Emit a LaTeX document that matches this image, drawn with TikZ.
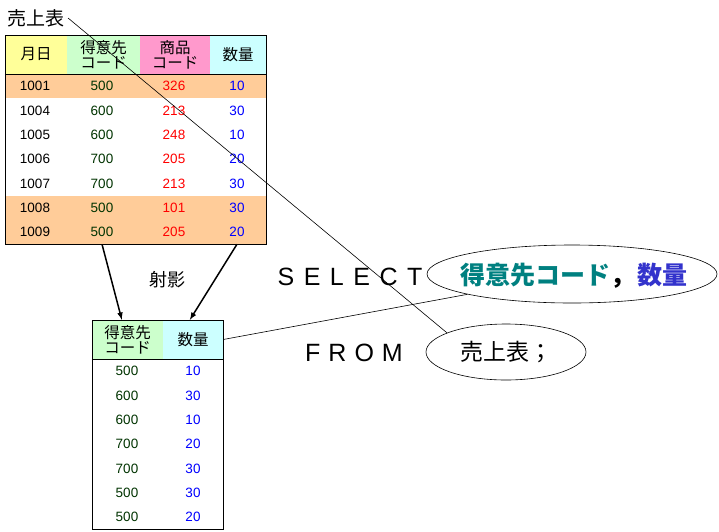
\documentclass[tikz,border=0pt]{standalone}
\usepackage{fontspec}
\setmainfont{Liberation Sans}
\newfontfamily\jp{Noto Sans CJK JP}
\usetikzlibrary{shapes.geometric, arrows}
\definecolor{hyellow}{HTML}{FFFF99}
\definecolor{hgreen}{HTML}{CCFFCC}
\definecolor{hpink}{HTML}{FF99CC}
\definecolor{hcyan}{HTML}{CCFFFF}
\definecolor{rowhi}{HTML}{FFCC99}
\definecolor{codegreen}{HTML}{003300}
\definecolor{colteal}{HTML}{008080}
\definecolor{colblue}{HTML}{3333CC}
\tikzstyle{hcell} = [rectangle, 
inner sep=0pt, 
minimum height=39pt, 
align=center, 
font=\jp\fontsize{15.5}{15}\selectfont]
\tikzstyle{num} = [inner sep=0pt, 
font=\fontsize{13.5}{13.5}\selectfont]
\tikzstyle{frame} = [rectangle, 
draw=black, 
inner sep=0pt]
\tikzstyle{oval} = [ellipse, 
draw=black, 
line width=0.6pt, 
inner sep=0pt]
\tikzstyle{kw} = [font=\fontsize{25}{25}\selectfont]
\tikzstyle{pointer} = [line width=0.6pt]
\tikzstyle{proj} = [->, >=latex, line width=1.5pt]

\begin{document}
\begin{tikzpicture}[x=1pt, y=-1pt]
\useasboundingbox (0,0) rectangle (719,531);
% source table
\node (lbl) [font=\jp\fontsize{19}{19}\selectfont] at (36,18) {売上表};
\node (hdate) [hcell, fill=hyellow, minimum width=62pt] at (36,54.5) {月日};
\node (hcode) [hcell, fill=hgreen, minimum width=73pt] at (103.5,54.5) {得意先\\コード};
\node (hitem) [hcell, fill=hpink, minimum width=70pt] at (175,54.5) {商品\\コード};
\node (hqty) [hcell, fill=hcyan, minimum width=56pt] at (238,54.5) {数量};
\fill [rowhi] (5,74) rectangle (266,98.3);
\fill [rowhi] (5,195.8) rectangle (266,244);
\foreach \d/\c/\p/\q [count=\i] in {1001/500/326/10, 1004/600/213/30, 1005/600/248/10,
  1006/700/205/20, 1007/700/213/30, 1008/500/101/30, 1009/500/205/20}
{
  \node (d\i) [num] at (35,61.85+24.3*\i) {\d};
  \node (c\i) [num, text=codegreen] at (102,61.85+24.3*\i) {\c};
  \node (p\i) [num, text=red] at (174,61.85+24.3*\i) {\p};
  \node (q\i) [num, text=blue] at (237,61.85+24.3*\i) {\q};
}
\node (uriage) [frame, minimum width=261pt, minimum height=209pt] at (135.5,139.5) {};
\draw (uriage.west |- hdate.south) -- (uriage.east |- hdate.south);

% projected table
\node (bcode) [hcell, fill=hgreen, minimum width=71pt] at (127.5,339.5) {得意先\\コード};
\node (bqty) [hcell, fill=hcyan, minimum width=60pt] at (193,339.5) {数量};
\foreach \c/\q [count=\i] in {500/10, 600/30, 600/10, 700/20, 700/30, 500/30, 500/20}
{
  \node (bc\i) [num, text=codegreen] at (127,346.85+24.3*\i) {\c};
  \node (bq\i) [num, text=blue] at (193,346.85+24.3*\i) {\q};
}
\node (shaei) [frame, minimum width=131pt, minimum height=209pt] at (157.5,424.5) {};
\draw (shaei.west |- bcode.south) -- (shaei.east |- bcode.south);
\node (projlbl) [font=\jp\fontsize{18}{18}\selectfont] at (167,280) {射影};

% query
\node (sel) [kw] at (350,277) {S\hspace{9.5pt}E\hspace{9.5pt}L\hspace{9.5pt}E\hspace{9.5pt}C\hspace{9.5pt}T};
\node (from) [kw] at (354,353) {F\hspace{8pt}R\hspace{8pt}O\hspace{8pt}M};
\node (selcols) [oval, minimum width=290pt, minimum height=58pt] at (572,274) {};
\node (colnames) [font=\jp\bfseries\fontsize{25}{25}\selectfont] at (574,276)
  {\textcolor{colteal}{得意先コード}，\hspace{2pt}\textcolor{colblue}{数量}};
\node (fromtbl) [oval, minimum width=160pt, minimum height=56pt,
  font=\jp\fontsize{23}{23}\selectfont] at (506,352) {売上表；};

\draw [proj] (c7.south |- uriage.south) -- (bcode.106);
\draw [proj] (q7.south |- uriage.south) -- (bqty.99);
\draw [pointer] (lbl.east) -- (fromtbl.162);
\draw [pointer] (bqty.east) -- (selcols.191);
\end{tikzpicture}
\end{document}
